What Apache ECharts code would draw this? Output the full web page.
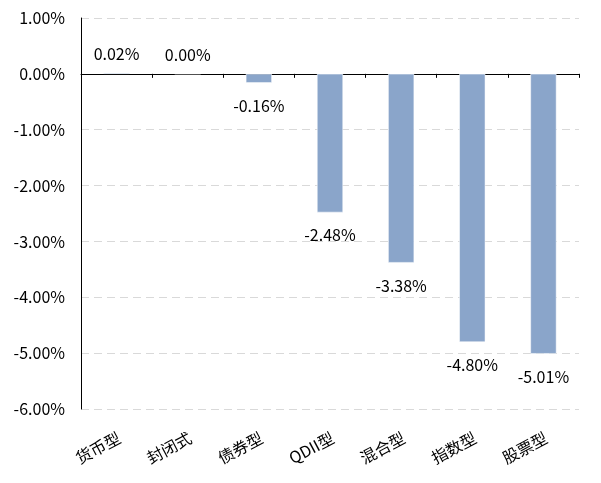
<!DOCTYPE html>
<html><head><meta charset="utf-8">
<script src="https://cdn.jsdelivr.net/npm/echarts@6/dist/echarts.min.js"></script>
<style>html,body{margin:0;padding:0;background:#fff}#c{width:601px;height:483px}</style>
</head><body><div id="c"></div>
<script>
var categories = ['货币型','封闭式','债券型','QDII型','混合型','指数型','股票型'];
var values = [0.02, 0.00, -0.16, -2.48, -3.38, -4.80, -5.01];
var yTicks = {min: -6, max: 1, interval: 1};
var font = '"Microsoft YaHei","Noto Sans CJK SC",sans-serif';
var chart = echarts.init(document.getElementById('c'));
var data = values.map(function(v){
  return {value: v, label: v < 0 ? {position: 'bottom', distance: 15} : {position: 'top', distance: 11}};
});
chart.setOption({
  animation: false,
  grid: {left: 81, right: 22, top: 18, bottom: 74},
  xAxis: [{
    type: 'category', data: categories, position: 'bottom',
    axisLine: {show: false, onZero: false}, axisTick: {show: false},
    axisLabel: {rotate: 28, color: '#000', fontSize: 16, fontFamily: font, margin: 29, interval: 0,
      padding: [0, -3, 0, 0]}
  }, {
    type: 'category', data: categories, position: 'bottom',
    axisLine: {show: true, onZero: true, lineStyle: {color: '#000', width: 1}},
    axisTick: {show: true, length: 4, lineStyle: {color: '#000'}},
    axisLabel: {show: false}
  }],
  yAxis: {
    type: 'value', min: yTicks.min, max: yTicks.max, interval: yTicks.interval,
    axisLine: {show: true, lineStyle: {color: '#000', width: 1}},
    axisTick: {show: false},
    axisLabel: {color: '#000', fontSize: 16, fontFamily: font, margin: 16,
      formatter: function(v){ return v.toFixed(2) + '%'; }},
    splitLine: {show: true, lineStyle: {color: '#d9d9d9', type: [8, 5], width: 1}}
  },
  series: [{
    type: 'bar', xAxisIndex: 0, data: data, barWidth: 26,
    itemStyle: {color: '#8aa5ca', borderColor: '#fff', borderWidth: 0.5},
    label: {
      show: true, fontSize: 16, fontFamily: font, color: '#000',
      formatter: function(p){ return p.value.toFixed(2) + '%'; }
    }
  }]
});
</script></body></html>
